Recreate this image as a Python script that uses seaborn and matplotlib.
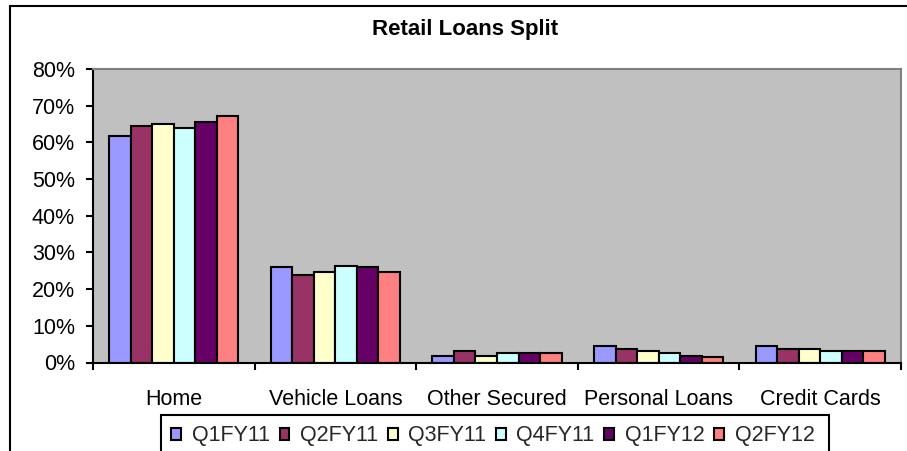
import matplotlib
matplotlib.use("Agg")
import matplotlib.pyplot as plt
from matplotlib.patches import Rectangle, Patch
from matplotlib.ticker import FuncFormatter
import seaborn as sns
import pandas as pd

categories = ["Home", "Vehicle Loans", "Other Secured", "Personal Loans", "Credit Cards"]
quarters = ["Q1FY11", "Q2FY11", "Q3FY11", "Q4FY11", "Q1FY12", "Q2FY12"]

q1fy11 = [61.7, 25.9, 1.9, 4.6, 4.6]
q2fy11 = [64.5, 23.8, 3.0, 3.6, 3.6]
q3fy11 = [65.0, 24.8, 1.9, 3.0, 3.6]
q4fy11 = [63.9, 26.4, 2.5, 2.5, 3.0]
q1fy12 = [65.5, 25.9, 2.5, 1.9, 3.0]
q2fy12 = [67.2, 24.8, 2.5, 1.4, 3.0]

colors = ["#9999FF", "#993366", "#FFFFCC", "#CCFFFF", "#660066", "#FF8080"]

series = [q1fy11, q2fy11, q3fy11, q4fy11, q1fy12, q2fy12]
rows = []
for q, vals in zip(quarters, series):
    for c, v in zip(categories, vals):
        rows.append({"category": c, "quarter": q, "share": v})
df = pd.DataFrame(rows)

sns.set_theme(style="white")
plt.rcParams["font.family"] = ["Liberation Sans", "DejaVu Sans"]

FS = 15.5
W, H = 907, 451
fig = plt.figure(figsize=(W / 100, H / 100), dpi=100)
fig.patch.set_facecolor("white")

# outer chart frame (runs past the right and bottom edges)
fig.patches.append(Rectangle((10 / W, -0.2), 1.2, 1 - 6 / H + 0.2,
                             transform=fig.transFigure, fill=False,
                             edgecolor="black", linewidth=1.5))

left, right, top, bottom = 93, 901, 69, 362.5
ax = fig.add_axes([left / W, 1 - bottom / H, (right - left) / W, (bottom - top) / H])
ax.set_facecolor("#C0C0C0")

sns.barplot(data=df, x="category", y="share", hue="quarter", order=categories,
            hue_order=quarters, palette=colors, width=0.8, gap=0,
            edgecolor="black", linewidth=1.5, saturation=1, ax=ax, legend=False)

ax.set_xlim(-0.5, len(categories) - 0.5)
ax.set_ylim(0, 80)
ax.set_yticks(range(0, 81, 10))
ax.yaxis.set_major_formatter(FuncFormatter(lambda v, p: f"{int(v)}%"))
ax.set_xlabel("")
ax.set_ylabel("")
ax.tick_params(axis="y", which="major", length=5, width=1.5, color="black",
               direction="out", labelsize=FS, pad=8, left=True)
ax.tick_params(axis="x", which="major", length=0, labelsize=FS, pad=19)
ax.set_xticks([i - 0.5 for i in range(len(categories) + 1)], minor=True)
ax.tick_params(axis="x", which="minor", length=5, width=1.5, color="black",
               direction="out", bottom=True)
for lab in ax.get_xticklabels() + ax.get_yticklabels():
    lab.set_color("black")

for s in ["left", "bottom"]:
    ax.spines[s].set_color("black")
    ax.spines[s].set_linewidth(1.5)
for s in ["top", "right"]:
    ax.spines[s].set_color("#808080")
    ax.spines[s].set_linewidth(1.5)

fig.text(465 / W, 1 - 29 / H, "Retail Loans Split", ha="center", va="center",
         fontsize=16, fontweight="bold", color="black")

# legend box (bottom edge runs past the figure)
fig.patches.append(Rectangle((161 / W, -0.1), (829 - 161) / W, (H - 415) / H + 0.1,
                             transform=fig.transFigure, fill=False,
                             edgecolor="black", linewidth=1.5))
handles = [Patch(facecolor=c, edgecolor="black", linewidth=1.5, label=q)
           for c, q in zip(colors, quarters)]
fig.legend(handles=handles, loc="center", bbox_to_anchor=(493 / W, 1 - 436 / H),
           ncol=6, frameon=False, fontsize=FS, handlelength=0.45,
           handleheight=0.45, handletextpad=0.5, columnspacing=0.45,
           borderpad=0)

fig.savefig("out.png", dpi=100)
